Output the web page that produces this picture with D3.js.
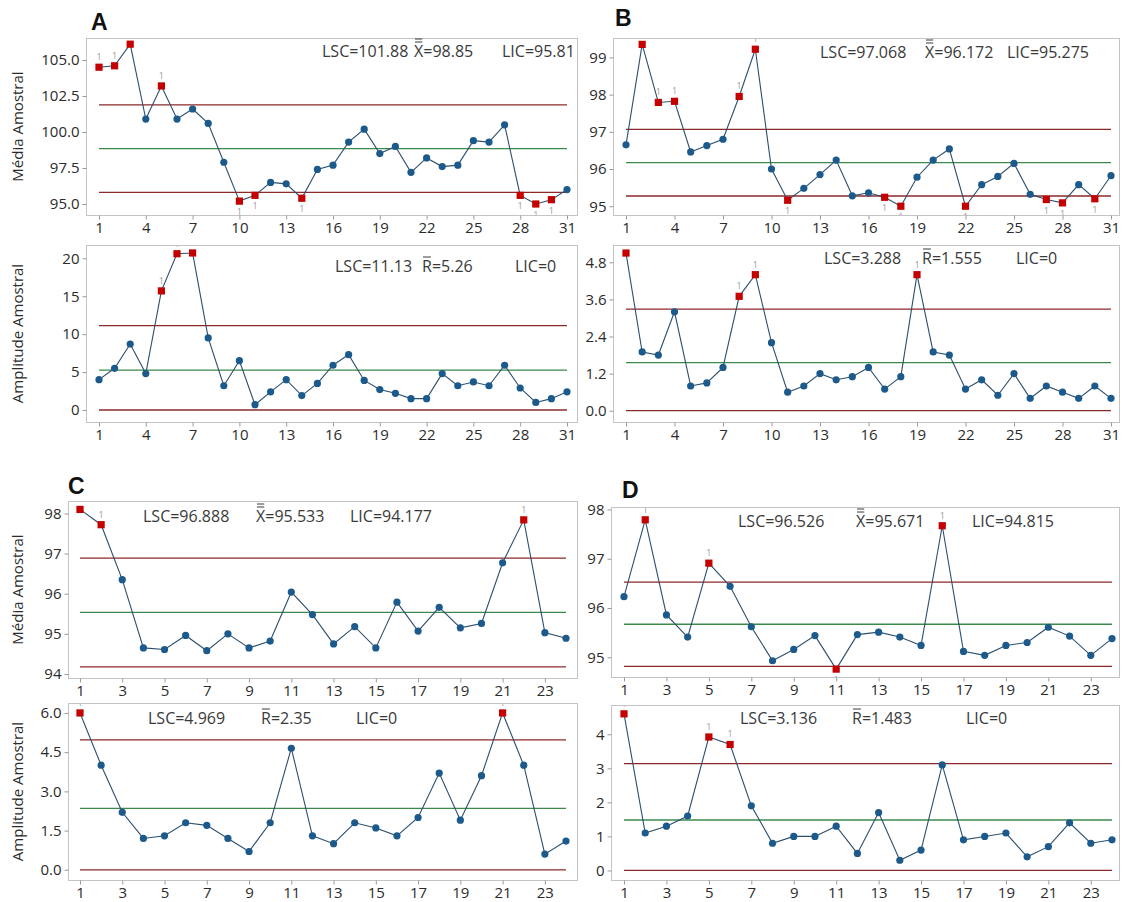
<!DOCTYPE html>
<html>
<head>
<meta charset="utf-8">
<script src="https://cdn.jsdelivr.net/npm/d3@7"></script>
<style>
  html, body { margin: 0; padding: 0; background: #fff; }
  svg { display: block; font-family: "Open Sans", "Noto Sans", sans-serif; }
</style>
</head>
<body>
<svg id="chart" width="1123" height="902"></svg>
<script>
// ---- sample means and ranges (Xbar-R charts) ----
const meanA = [104.5, 104.6, 106.1, 100.9, 103.2, 100.9, 101.6, 100.6, 97.9, 95.2,
               95.6, 96.5, 96.4, 95.4, 97.4, 97.7, 99.3, 100.2, 98.5, 99.0,
               97.2, 98.2, 97.6, 97.7, 99.4, 99.3, 100.5, 95.6, 95.0, 95.3, 96.0];
const rangeA = [4.0, 5.5, 8.7, 4.8, 15.7, 20.6, 20.7, 9.5, 3.2, 6.5,
                0.7, 2.4, 4.0, 1.9, 3.5, 5.9, 7.3, 3.9, 2.7, 2.2,
                1.5, 1.5, 4.8, 3.2, 3.7, 3.2, 5.9, 2.9, 1.0, 1.5, 2.4];
const meanB = [96.65, 99.35, 97.79, 97.82, 96.46, 96.63, 96.8, 97.95, 99.22, 96.0,
               95.16, 95.48, 95.85, 96.24, 95.28, 95.36, 95.24, 95.0, 95.78, 96.24,
               96.54, 95.0, 95.58, 95.8, 96.15, 95.32, 95.18, 95.09, 95.58, 95.2, 95.82];
const rangeB = [5.1, 1.9, 1.8, 3.2, 0.8, 0.9, 1.4, 3.7, 4.4, 2.2,
                0.6, 0.8, 1.2, 1.0, 1.1, 1.4, 0.7, 1.1, 4.4, 1.9,
                1.8, 0.7, 1.0, 0.5, 1.2, 0.4, 0.8, 0.6, 0.4, 0.8, 0.4];
const meanC = [98.1, 97.72, 96.35, 94.65, 94.61, 94.96, 94.58, 95.0, 94.65, 94.82,
               96.04, 95.48, 94.75, 95.18, 94.65, 95.79, 95.07, 95.66, 95.15, 95.26,
               96.77, 97.84, 95.03, 94.89];
const rangeC = [6.0, 4.0, 2.2, 1.2, 1.3, 1.8, 1.7, 1.2, 0.7, 1.8,
                4.65, 1.3, 1.0, 1.8, 1.6, 1.3, 2.0, 3.7, 1.9, 3.6,
                6.0, 4.0, 0.6, 1.1];
const meanD = [96.23, 97.79, 95.86, 95.41, 96.91, 96.44, 95.62, 94.93, 95.16, 95.44,
               94.76, 95.46, 95.51, 95.41, 95.24, 97.67, 95.12, 95.04, 95.24, 95.3,
               95.61, 95.43, 95.04, 95.38];
const rangeD = [4.6, 1.1, 1.3, 1.6, 3.92, 3.7, 1.9, 0.8, 1.0, 1.0,
                1.3, 0.5, 1.7, 0.3, 0.6, 3.1, 0.9, 1.0, 1.1, 0.4,
                0.7, 1.4, 0.8, 0.9];

// ---- control limits: [LSC, centre, LIC] ----
const limMeanA = [101.88, 98.85, 95.81];
const limRangeA = [11.13, 5.26, 0];
const limMeanB = [97.068, 96.172, 95.275];
const limRangeB = [3.288, 1.555, 0];
const limMeanC = [96.888, 95.533, 94.177];
const limRangeC = [4.969, 2.35, 0];
const limMeanD = [96.526, 95.671, 94.815];
const limRangeD = [3.136, 1.483, 0];

// ---- tick values ----
const xTicks31 = [1, 4, 7, 10, 13, 16, 19, 22, 25, 28, 31];
const xTicks24 = [1, 3, 5, 7, 9, 11, 13, 15, 17, 19, 21, 23];
const yTicksMeanA = [95.0, 97.5, 100.0, 102.5, 105.0];
const yTicksRangeA = [0, 5, 10, 15, 20];
const yTicksMeanB = [95, 96, 97, 98, 99];
const yTicksRangeB = [0.0, 1.2, 2.4, 3.6, 4.8];
const yTicksMeanC = [94, 95, 96, 97, 98];
const yTicksRangeC = [0.0, 1.5, 3.0, 4.5, 6.0];
const yTicksMeanD = [95, 96, 97, 98];
const yTicksRangeD = [0, 1, 2, 3, 4];

const panelLetters = ["A", "B", "C", "D"];
const titleMean = "Média Amostral";
const titleRange = "Amplitude Amostral";

// ---- styling ----
const COL = {
  frame: "#c4c4c4",
  tick: "#9a9a9a",
  text: "#2b2b2b",
  note: "#3a3a3a",
  line: "#2b4f6e",
  dot: "#1d5a8c",
  flag: "#c40000",
  limit: "#8c2a2a",
  centre: "#3b8a4c",
  flagText: "#9a9a9a"
};

const svg = d3.select("#chart");
const defs = svg.append("defs");
let clipCount = 0;

// One control-chart subplot
function drawChart(cfg) {
  const g = svg.append("g");
  const n = cfg.values.length;
  const x = d3.scaleLinear().domain([1, n]).range(cfg.xRange);
  const y = d3.scaleLinear().domain(cfg.yDomain).range([cfg.frame[3], cfg.frame[1]]);
  const [fx0, fy0, fx1, fy1] = cfg.frame;

  const clipId = "plotclip" + (clipCount++);
  defs.append("clipPath").attr("id", clipId)
    .append("rect").attr("x", fx0 + 1).attr("y", fy0 + 1)
    .attr("width", fx1 - fx0 - 1).attr("height", fy1 - fy0 - 1);

  // frame
  g.append("rect")
    .attr("x", fx0 + 0.5).attr("y", fy0 + 0.5)
    .attr("width", fx1 - fx0).attr("height", fy1 - fy0)
    .attr("fill", "none").attr("stroke", COL.frame).attr("stroke-width", 1);

  // x axis
  const xAxis = d3.axisBottom(x).tickValues(cfg.xTicks).tickSize(4).tickPadding(3).tickFormat(d3.format("d"));
  const gx = g.append("g").attr("transform", `translate(0,${fy1 + 0.5})`).call(xAxis);
  gx.select(".domain").remove();
  gx.selectAll(".tick line").attr("stroke", COL.tick);
  gx.selectAll(".tick text").attr("fill", COL.text).style("font-size", "15px")
    .style("font-family", "'Open Sans', sans-serif");

  // y axis
  const yAxis = d3.axisLeft(y).tickValues(cfg.yTicks).tickSize(4).tickPadding(3).tickFormat(d3.format(cfg.yFormat));
  const gy = g.append("g").attr("transform", `translate(${fx0 + 0.5},0)`).call(yAxis);
  gy.select(".domain").remove();
  gy.selectAll(".tick line").attr("stroke", COL.tick);
  gy.selectAll(".tick text").attr("fill", COL.text).style("font-size", "15px")
    .style("font-family", "'Open Sans', sans-serif");

  // y title
  if (cfg.yTitle) {
    g.append("text")
      .attr("transform", `translate(${cfg.titleX},${(fy0 + fy1) / 2}) rotate(-90)`)
      .attr("text-anchor", "middle").attr("dy", "0.35em")
      .attr("fill", COL.text).style("font-size", "15px")
      .text(cfg.yTitle);
  }

  // control limits
  const [lsc, cl, lic] = cfg.limits;
  [[lsc, COL.limit], [cl, COL.centre], [lic, COL.limit]].forEach(([v, c]) => {
    g.append("line")
      .attr("x1", x(1)).attr("x2", x(n))
      .attr("y1", y(v)).attr("y2", y(v))
      .attr("stroke", c).attr("stroke-width", 1.3);
  });

  // series line
  const line = d3.line().x((d, i) => x(i + 1)).y(d => y(d));
  g.append("path").datum(cfg.values)
    .attr("d", line).attr("fill", "none")
    .attr("stroke", COL.line).attr("stroke-width", 1.1);

  // points; out-of-limit samples get a red square and a "1" test flag
  const flags = g.append("g").attr("clip-path", `url(#${clipId})`);
  const pts = cfg.values.map((v, i) => ({ i: i + 1, v, hi: v > lsc, lo: v < lic }));
  pts.forEach(p => {
    if (p.hi || p.lo) {
      g.append("rect")
        .attr("x", x(p.i) - 3.6).attr("y", y(p.v) - 3.6)
        .attr("width", 7.2).attr("height", 7.2)
        .attr("fill", COL.flag);
      flags.append("text")
        .attr("x", x(p.i)).attr("y", p.hi ? y(p.v) - 7 : y(p.v) + 14)
        .attr("text-anchor", "middle")
        .attr("fill", COL.flagText).style("font-size", "9px")
        .text("1");
    } else {
      g.append("circle")
        .attr("cx", x(p.i)).attr("cy", y(p.v)).attr("r", 3.6)
        .attr("fill", COL.dot);
    }
  });

  // limit annotations
  const notes = [
    { x: cfg.notes[0], label: "LSC", bars: 0, v: lsc },
    { x: cfg.notes[1], label: cfg.sym, bars: cfg.sym === "X" ? 2 : 1, v: cl },
    { x: cfg.notes[2], label: "LIC", bars: 0, v: lic }
  ];
  notes.forEach(nt => {
    const t1 = g.append("text").attr("x", nt.x).attr("y", cfg.noteY)
      .attr("fill", COL.note).style("font-size", "16px").text(nt.label);
    const w = t1.node().getComputedTextLength();
    g.append("text").attr("x", nt.x + w).attr("y", cfg.noteY)
      .attr("fill", COL.note).style("font-size", "16px").text("=" + String(nt.v));
    for (let b = 0; b < nt.bars; b++) {
      const by = cfg.noteY - 15 - b * 3;
      g.append("line")
        .attr("x1", nt.x + 1).attr("x2", nt.x + w - 1)
        .attr("y1", by).attr("y2", by)
        .attr("stroke", COL.note).attr("stroke-width", 1);
    }
  });
}

// panel letters
function letter(txt, lx, ly) {
  svg.append("text").attr("x", lx).attr("y", ly)
    .attr("fill", "#111").style("font-size", "23px").style("font-weight", "bold")
    .style("font-family", "'Liberation Sans', Arial, sans-serif")
    .text(txt);
}

// ---- panel A ----
drawChart({ values: meanA, limits: limMeanA, frame: [86, 38, 577, 215], xRange: [99, 567],
  yDomain: [94.236, 106.53], yTicks: yTicksMeanA, yFormat: ".1f", xTicks: xTicks31,
  yTitle: titleMean, titleX: 18, sym: "X", notes: [322, 414, 502], noteY: 57 });
drawChart({ values: rangeA, limits: limRangeA, frame: [86, 245, 577, 422], xRange: [99, 567],
  yDomain: [-1.58, 21.75], yTicks: yTicksRangeA, yFormat: "d", xTicks: xTicks31,
  yTitle: titleRange, titleX: 18, sym: "R", notes: [335, 422, 515], noteY: 272 });

// ---- panel B ----
drawChart({ values: meanB, limits: limMeanB, frame: [613, 38, 1119, 215], xRange: [626, 1111],
  yDomain: [94.764, 99.522], yTicks: yTicksMeanB, yFormat: "d", xTicks: xTicks31,
  sym: "X", notes: [820, 925, 1007], noteY: 58 });
drawChart({ values: rangeB, limits: limRangeB, frame: [613, 245, 1119, 422], xRange: [626, 1111],
  yDomain: [-0.365, 5.36], yTicks: yTicksRangeB, yFormat: ".1f", xTicks: xTicks31,
  sym: "R", notes: [824, 922, 1016], noteY: 264 });

// ---- panel C ----
drawChart({ values: meanC, limits: limMeanC, frame: [68, 501, 577, 678], xRange: [80, 566],
  yDomain: [93.9, 98.31], yTicks: yTicksMeanC, yFormat: "d", xTicks: xTicks24,
  yTitle: titleMean, titleX: 18, sym: "X", notes: [143, 256, 350], noteY: 522 });
drawChart({ values: rangeC, limits: limRangeC, frame: [68, 703, 577, 880], xRange: [80, 566],
  yDomain: [-0.39, 6.38], yTicks: yTicksRangeC, yFormat: ".1f", xTicks: xTicks24,
  yTitle: titleRange, titleX: 18, sym: "R", notes: [148, 261, 356], noteY: 724 });

// ---- panel D ----
drawChart({ values: meanD, limits: limMeanD, frame: [611, 507, 1119, 677], xRange: [624, 1112],
  yDomain: [94.6, 98.05], yTicks: yTicksMeanD, yFormat: "d", xTicks: xTicks24,
  sym: "X", notes: [738, 856, 972], noteY: 527 });
drawChart({ values: rangeD, limits: limRangeD, frame: [611, 705, 1119, 880], xRange: [624, 1112],
  yDomain: [-0.28, 4.86], yTicks: yTicksRangeD, yFormat: "d", xTicks: xTicks24,
  sym: "R", notes: [740, 852, 966], noteY: 724 });

letter(panelLetters[0], 91, 30);
letter(panelLetters[1], 615, 26);
letter(panelLetters[2], 68, 494);
letter(panelLetters[3], 622, 498);
</script>
</body>
</html>
